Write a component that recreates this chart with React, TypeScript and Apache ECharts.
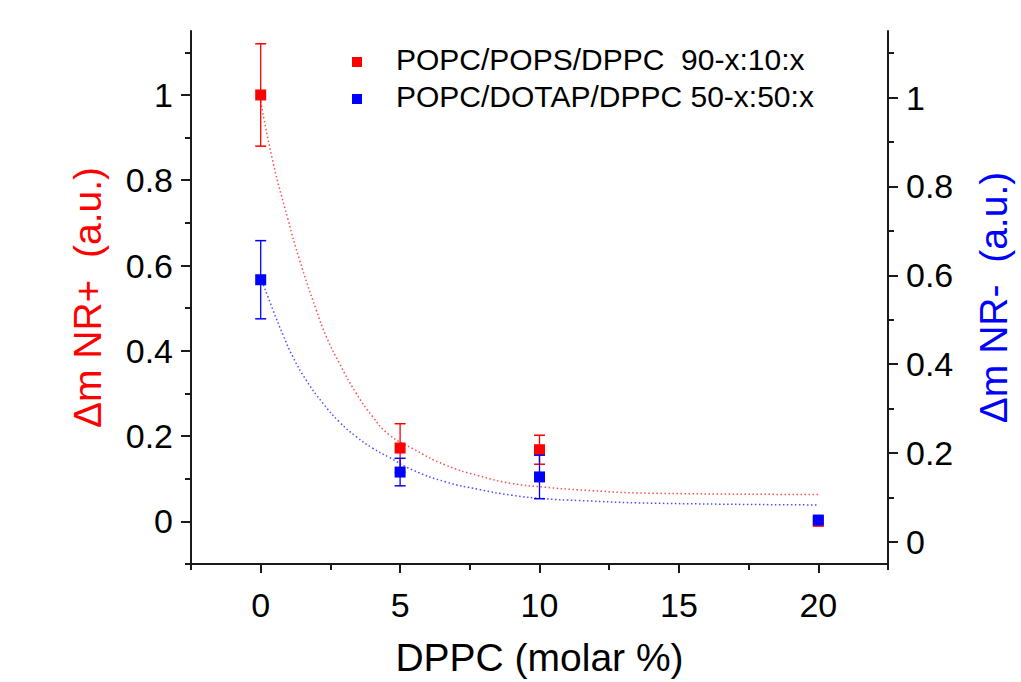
import React, { useEffect, useRef } from "react";
import * as echarts from "echarts";

// ---- data ----
const dppcValues = [0, 5, 10, 20];
const redValues = [1.0, 0.172, 0.168, 0.0];
const redErrors = [0.12, 0.057, 0.034, 0];
const blueValues = [0.59, 0.157, 0.146, 0.049];
const blueErrors = [0.088, 0.031, 0.049, 0];

const redFitX = [0, 0.45, 0.98, 1.39, 1.99, 2.35, 2.82, 3.42, 4.01, 4.61, 5.44, 6.63, 7.82, 9.0, 10.2, 11.39, 14.0, 20.0];
const redFitY = [0.985, 0.84, 0.708, 0.614, 0.496, 0.434, 0.371, 0.301, 0.246, 0.203, 0.171, 0.132, 0.107, 0.089, 0.08, 0.074, 0.066, 0.063];
const blueFitX = [0, 0.44, 0.8, 1.15, 1.63, 2.23, 2.82, 3.42, 4.01, 4.61, 5.44, 6.63, 7.82, 9.0, 10.2, 11.39, 14.0, 20.0];
const blueFitY = [0.595, 0.522, 0.466, 0.417, 0.364, 0.312, 0.27, 0.237, 0.211, 0.19, 0.162, 0.135, 0.118, 0.105, 0.097, 0.093, 0.087, 0.083];

const xTickValues = [0, 5, 10, 15, 20];
const xMinorTicks = [-2.5, 2.5, 7.5, 12.5, 17.5, 22.5];
const leftTickValues = [0, 0.2, 0.4, 0.6, 0.8, 1];
const leftMinorTicks = [-0.1, 0.1, 0.3, 0.5, 0.7, 0.9, 1.1];
const rightTickValues = [0, 0.2, 0.4, 0.6, 0.8, 1];
const rightMinorTicks = [0.1, 0.3, 0.5, 0.7, 0.9, 1.1];

const legendLabels = ["POPC/POPS/DPPC  90-x:10:x", "POPC/DOTAP/DPPC 50-x:50:x"];
const xTitle = "DPPC (molar %)";
const leftTitle = "Δm NR+  (a.u.)";
const rightTitle = "Δm NR-  (a.u.)";

const RED = "#ff0000";
const BLUE = "#0000ff";
const FONT = "'Liberation Sans', Arial, sans-serif";
const AXIS_COLOR = "#1a1a1a";

function errRender(color: string) {
  return (params: any, api: any) => {
    const x = api.value(0);
    const y = api.value(1);
    const e = api.value(2);
    if (!e) return { type: "group", children: [] };
    const top = api.coord([x, y + e]);
    const bot = api.coord([x, y - e]);
    const hw = 5.5;
    return {
      type: "group",
      children: [
        { type: "line", shape: { x1: top[0], y1: top[1], x2: bot[0], y2: bot[1] }, style: { stroke: color, lineWidth: 1.3 } },
        { type: "line", shape: { x1: top[0] - hw, y1: top[1], x2: top[0] + hw, y2: top[1] }, style: { stroke: color, lineWidth: 1.5 } },
        { type: "line", shape: { x1: bot[0] - hw, y1: bot[1], x2: bot[0] + hw, y2: bot[1] }, style: { stroke: color, lineWidth: 1.5 } },
      ],
    };
  };
}

export default function App() {
  const ref = useRef<HTMLDivElement>(null);
  useEffect(() => {
    if (!ref.current) return;
    const chart = echarts.init(ref.current, null, { renderer: "svg" });
    const grid = { left: 191, right: 130, top: 31, bottom: 118, containLabel: false };
    const majorX = {
      type: "value",
      min: -2.5,
      max: 22.5,
      position: "bottom",
      offset: 0,
      axisLine: { show: true, onZero: false, lineStyle: { color: AXIS_COLOR, width: 2 } },
      axisTick: { show: true, customValues: xTickValues, length: 9, lineStyle: { color: AXIS_COLOR, width: 2 } },
      axisLabel: { show: true, customValues: xTickValues, margin: 24, fontSize: 34, color: "#000", fontFamily: FONT },
      splitLine: { show: false },
      name: xTitle,
      nameLocation: "middle",
      nameGap: 74,
      nameTextStyle: { fontSize: 39, color: "#000", fontFamily: FONT },
    };
    const minorX = {
      type: "value",
      min: -2.5,
      max: 22.5,
      position: "bottom",
      offset: 0,
      axisLine: { show: false, onZero: false },
      axisTick: { show: true, customValues: xMinorTicks, length: 6, lineStyle: { color: AXIS_COLOR, width: 2 } },
      axisLabel: { show: false },
      splitLine: { show: false },
    };
    const yBase = (min: number, pos: string) => ({
      type: "value",
      min,
      max: 1.15,
      position: pos,
      offset: 0,
      splitLine: { show: false },
    });
    const option: any = {
      animation: false,
      backgroundColor: "#ffffff",
      grid,
      xAxis: [majorX, minorX],
      yAxis: [
        {
          ...yBase(-0.1, "left"),
          axisLine: { show: true, onZero: false, lineStyle: { color: AXIS_COLOR, width: 2 } },
          axisTick: { show: true, customValues: leftTickValues, length: 10, lineStyle: { color: AXIS_COLOR, width: 2 } },
          axisLabel: { show: true, customValues: leftTickValues, margin: 18, fontSize: 34, color: "#000", fontFamily: FONT },
          name: leftTitle,
          nameLocation: "middle",
          nameRotate: 90,
          nameGap: 84,
          nameTextStyle: { fontSize: 39, color: RED, fontFamily: FONT },
        },
        {
          ...yBase(-0.1, "left"),
          axisLine: { show: false, onZero: false },
          axisTick: { show: true, customValues: leftMinorTicks, length: 6, lineStyle: { color: AXIS_COLOR, width: 2 } },
          axisLabel: { show: false },
        },
        {
          ...yBase(-0.05, "right"),
          axisLine: { show: true, onZero: false, lineStyle: { color: AXIS_COLOR, width: 2 } },
          axisTick: { show: true, customValues: rightTickValues, length: 10, lineStyle: { color: AXIS_COLOR, width: 2 } },
          axisLabel: { show: true, customValues: rightTickValues, margin: 18, fontSize: 34, color: "#000", fontFamily: FONT },
          name: rightTitle,
          nameLocation: "middle",
          nameRotate: 90,
          nameGap: 86,
          nameTextStyle: { fontSize: 39, color: BLUE, fontFamily: FONT },
        },
        {
          ...yBase(-0.05, "right"),
          axisLine: { show: false, onZero: false },
          axisTick: { show: true, customValues: rightMinorTicks, length: 6, lineStyle: { color: AXIS_COLOR, width: 2 } },
          axisLabel: { show: false },
        },
      ],
      series: [
        {
          type: "line",
          xAxisIndex: 0,
          yAxisIndex: 0,
          data: redFitX.map((x, i) => [x, redFitY[i]]),
          showSymbol: false,
          smooth: true,
          lineStyle: { color: RED, width: 1.5, type: [1.5, 2.5], opacity: 0.7 },
          z: 1,
        },
        {
          type: "line",
          xAxisIndex: 0,
          yAxisIndex: 2,
          data: blueFitX.map((x, i) => [x, blueFitY[i]]),
          showSymbol: false,
          smooth: true,
          lineStyle: { color: BLUE, width: 1.5, type: [1.5, 2.5], opacity: 0.7 },
          z: 1,
        },
        {
          type: "custom",
          xAxisIndex: 0,
          yAxisIndex: 0,
          renderItem: errRender(RED),
          data: dppcValues.map((x, i) => [x, redValues[i], redErrors[i]]),
          encode: { x: 0, y: 1 },
          z: 2,
        },
        {
          type: "scatter",
          xAxisIndex: 0,
          yAxisIndex: 0,
          data: dppcValues.map((x, i) => [x, redValues[i]]),
          symbol: "rect",
          symbolSize: 11,
          itemStyle: { color: RED, opacity: 1 },
          z: 3,
        },
        {
          type: "custom",
          xAxisIndex: 0,
          yAxisIndex: 2,
          renderItem: errRender(BLUE),
          data: dppcValues.map((x, i) => [x, blueValues[i], blueErrors[i]]),
          encode: { x: 0, y: 1 },
          z: 4,
        },
        {
          type: "scatter",
          xAxisIndex: 0,
          yAxisIndex: 2,
          data: dppcValues.map((x, i) => [x, blueValues[i]]),
          symbol: "rect",
          symbolSize: 11,
          itemStyle: { color: BLUE, opacity: 1 },
          z: 5,
        },
      ],
      graphic: [
        { type: "rect", left: 352, top: 57, shape: { width: 10, height: 10 }, style: { fill: RED } },
        { type: "text", left: 396, top: 44, style: { text: legendLabels[0], font: `30px ${FONT}`, fill: "#000" } },
        { type: "rect", left: 352, top: 94, shape: { width: 10, height: 10 }, style: { fill: BLUE } },
        { type: "text", left: 396, top: 81, style: { text: legendLabels[1], font: `30px ${FONT}`, fill: "#000" } },
      ],
    };
    chart.setOption(option);
    return () => chart.dispose();
  }, []);
  return <div ref={ref} style={{ position: "fixed", left: 0, top: 0, width: 1021, height: 682, background: "#fff" }} />;
}
